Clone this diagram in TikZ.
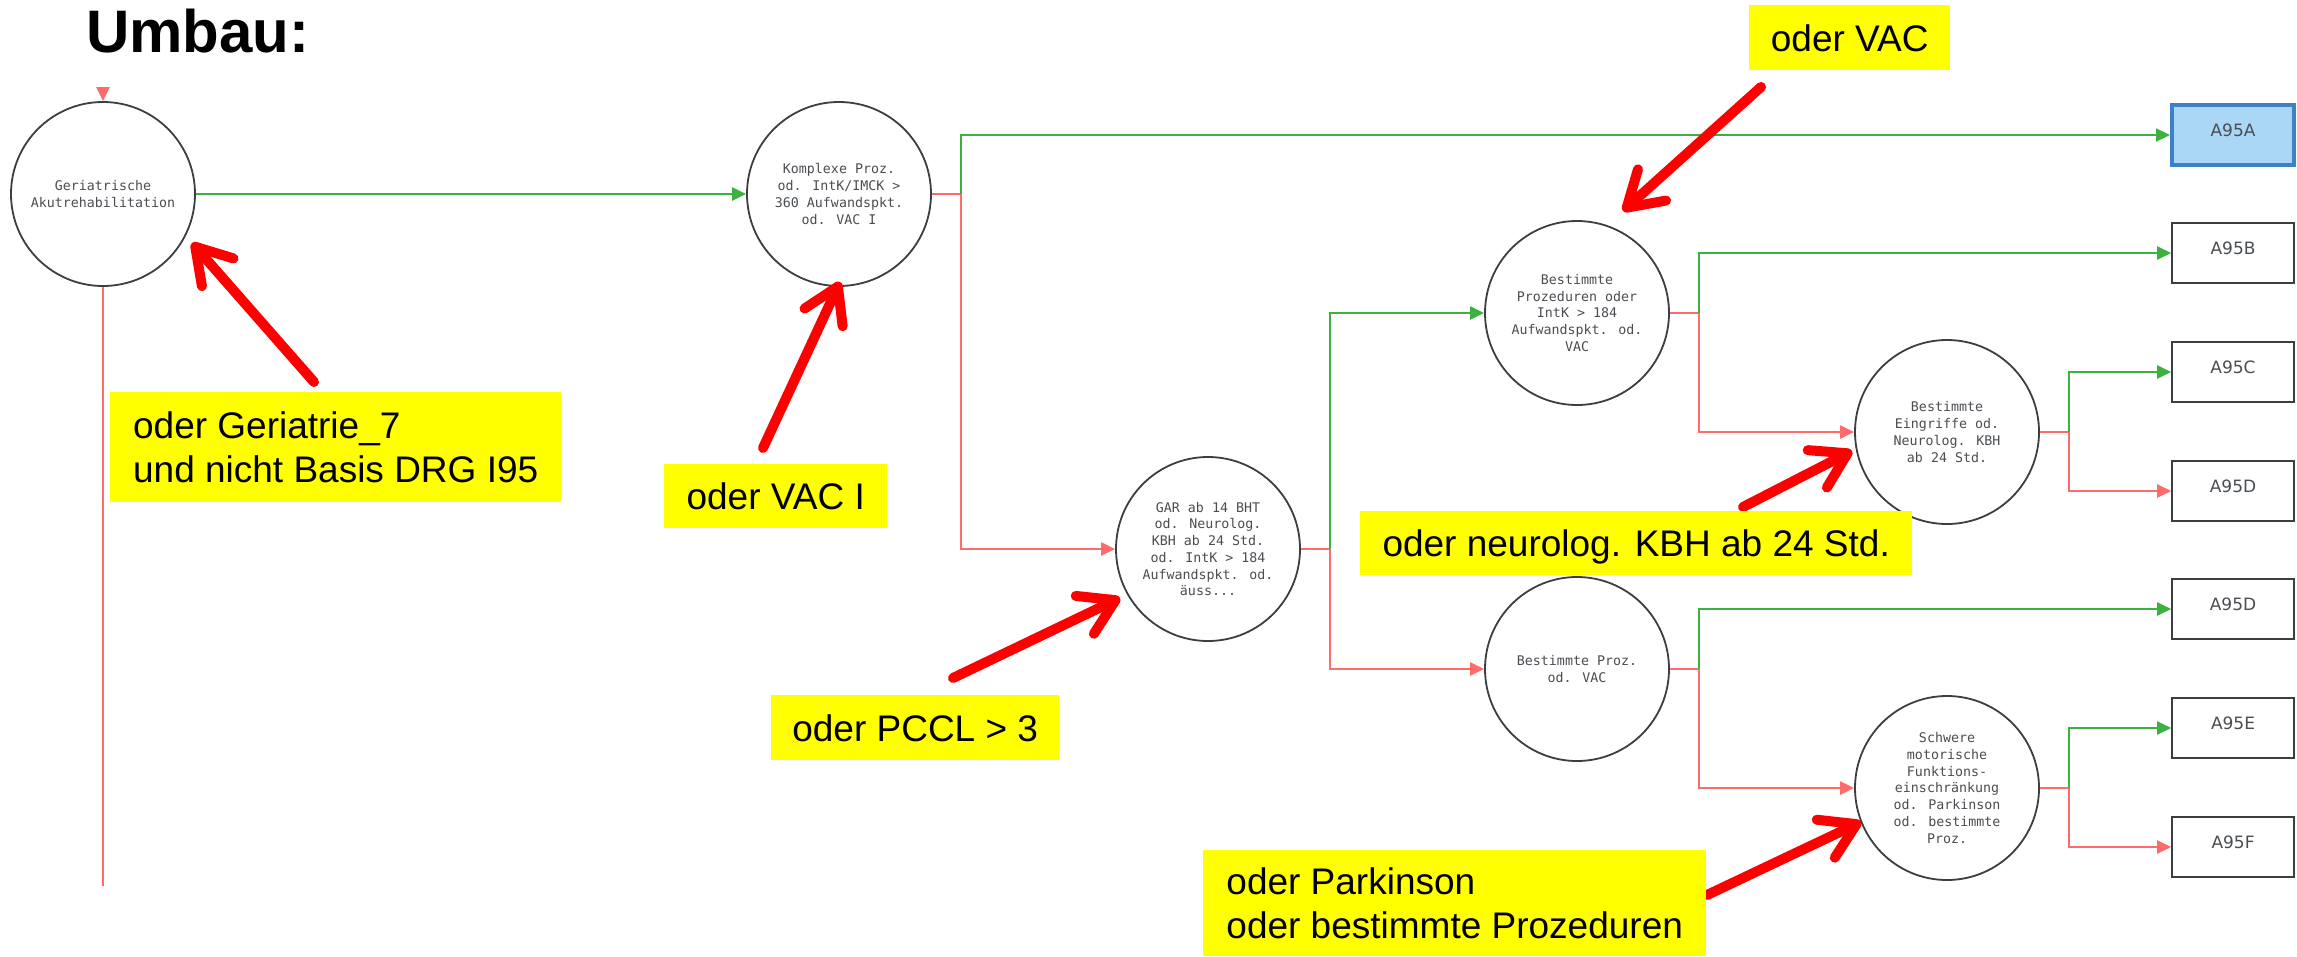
\documentclass[tikz,border=0pt]{standalone}
\usepackage{fontspec}
\setmainfont{Liberation Sans}
\newfontfamily\monofont{DejaVu Sans Mono}
\newfontfamily\boxfont{DejaVu Sans}
\usetikzlibrary{arrows.meta}
\definecolor{cgreen}{HTML}{3DB13F}
\definecolor{cred}{HTML}{FF6B6B}
\definecolor{cborder}{HTML}{3A3F44}
\definecolor{ctext}{HTML}{4A4E52}
\definecolor{ablue}{HTML}{A9D7F5}
\definecolor{ablueb}{HTML}{3D82C8}
\definecolor{annred}{HTML}{FF0000}
\definecolor{hl}{HTML}{FFFF00}
\begin{document}
\begin{tikzpicture}[x=1pt,y=-1pt,
  decision/.style={circle, draw=cborder, line width=1.8pt, fill=white, minimum size=184pt, inner sep=0pt, align=center, text=ctext, font=\monofont\fontsize{13.3}{16.7}\selectfont},
  result/.style={rectangle, draw=cborder, line width=1.6pt, fill=white, minimum width=122pt, minimum height=60pt, inner sep=0pt, text=ctext, font=\boxfont\fontsize{17}{20}\selectfont, text height=13pt, text depth=11pt},
  chosen/.style={result, draw=ablueb, fill=ablue, line width=4pt},
  yes/.style={draw=cgreen, line width=2.2pt, -{Triangle[length=14pt,width=13pt]}},
  no/.style={draw=cred, line width=2.2pt, -{Triangle[length=14pt,width=13pt]}},
  nostub/.style={draw=cred, line width=2.2pt},
  note/.style={fill=hl, anchor=north west, inner xsep=20pt, inner ysep=0pt, align=left, text=black, font=\fontsize{37}{44}\selectfont},
  oneline/.style={text height=27pt, text depth=0pt},
  pointer/.style={draw=annred, line width=10pt, line cap=round, -{Straight Barb[round, length=34pt, width=42pt]}},
]
\useasboundingbox (0,0) rectangle (2297,956);
\fill[white] (0,0) rectangle (2297,956);

\node[anchor=base west, inner sep=0pt, font=\bfseries\fontsize{60}{72}\selectfont] (title) at (86,52) {Umbau:};

% decision nodes
\node[decision] (c1) at (103,194) {Geriatrische\\Akutrehabilitation};
\node[decision] (c2) at (839,194) {Komplexe Proz.\\od. IntK/IMCK >\\360 Aufwandspkt.\\od. VAC I};
\node[decision] (c3) at (1208,549) {GAR ab 14 BHT\\od. Neurolog.\\KBH ab 24 Std.\\od. IntK > 184\\Aufwandspkt. od.\\äuss...};
\node[decision] (c4) at (1577,313) {Bestimmte\\Prozeduren oder\\IntK > 184\\Aufwandspkt. od.\\VAC};
\node[decision] (c5) at (1947,432) {Bestimmte\\Eingriffe od.\\Neurolog. KBH\\ab 24 Std.};
\node[decision] (c6) at (1577,669) {Bestimmte Proz.\\od. VAC};
\node[decision] (c7) at (1947,788) {Schwere\\motorische\\Funktions-\\einschränkung\\od. Parkinson\\od. bestimmte\\Proz.};

% results
\node[chosen] (rA) at (2233,135) {A95A};
\node[result] (rB) at (2233,253) {A95B};
\node[result] (rC) at (2233,372) {A95C};
\node[result] (rD) at (2233,491) {A95D};
\node[result] (rD2) at (2233,609) {A95D};
\node[result] (rE) at (2233,728) {A95E};
\node[result] (rF) at (2233,847) {A95F};

% junctions
\coordinate (j2) at (961,194);
\coordinate (j3) at (1330,549);
\coordinate (j4) at (1699,313);
\coordinate (j6) at (1699,669);
\coordinate (j5) at (2069,432);
\coordinate (j7) at (2069,788);
\coordinate (c1in) at (103,88);
\coordinate (c1end) at (103,886);

% connectors
\draw[no] (c1in) -- (c1.north);
\draw[nostub] (c1.south) -- (c1end);
\draw[yes] (c1) -- (c2);

\draw[nostub] (c2.east) -- (j2);
\draw[yes] (j2) |- (rA.west);
\draw[no] (j2) |- (c3.west);

\draw[nostub] (c3.east) -- (j3);
\draw[yes] (j3) |- (c4.west);
\draw[no] (j3) |- (c6.west);

\draw[nostub] (c4.east) -- (j4);
\draw[yes] (j4) |- (rB.west);
\draw[no] (j4) |- (c5.west);

\draw[nostub] (c5.east) -- (j5);
\draw[yes] (j5) |- (rC.west);
\draw[no] (j5) |- (rD.west);

\draw[nostub] (c6.east) -- (j6);
\draw[yes] (j6) |- (rD2.west);
\draw[no] (j6) |- (c7.west);

\draw[nostub] (c7.east) -- (j7);
\draw[yes] (j7) |- (rE.west);
\draw[no] (j7) |- (rF.west);

% annotation pointers
\coordinate (p1s) at (314,382); \coordinate (p1e) at (192,243);
\coordinate (p2s) at (763,448); \coordinate (p2e) at (840,282);
\coordinate (p3s) at (953,678); \coordinate (p3e) at (1120,598);
\coordinate (p4s) at (1761,87); \coordinate (p4e) at (1623,211);
\coordinate (p5s) at (1743,507); \coordinate (p5e) at (1852,451);
\coordinate (p6s) at (1707,895); \coordinate (p6e) at (1861,822);
\draw[pointer] (p1s) -- (p1e);
\draw[pointer] (p2s) -- (p2e);
\draw[pointer] (p3s) -- (p3e);
\draw[pointer] (p4s) -- (p4e);
\draw[pointer] (p5s) -- (p5e);
\draw[pointer] (p6s) -- (p6e);

% notes
\node[note, oneline, minimum width=201pt, minimum height=65pt] (nVAC) at (1749,5) {oder VAC};
\node[note, minimum width=451pt, minimum height=110pt] (nGer) at (110,392) {oder Geriatrie\_7\\und nicht Basis DRG I95};
\node[note, oneline, minimum width=223pt, minimum height=64pt] (nVACI) at (664,464) {oder VAC I};
\node[note, oneline, minimum width=552pt, minimum height=64pt] (nNeu) at (1360,511) {oder neurolog. KBH ab 24 Std.};
\node[note, oneline, minimum width=288pt, minimum height=65pt] (nPCCL) at (771,695) {oder PCCL > 3};
\node[note, minimum width=503pt, minimum height=106pt] (nPark) at (1203,850) {oder Parkinson\\oder bestimmte Prozeduren};
\end{tikzpicture}
\end{document}
